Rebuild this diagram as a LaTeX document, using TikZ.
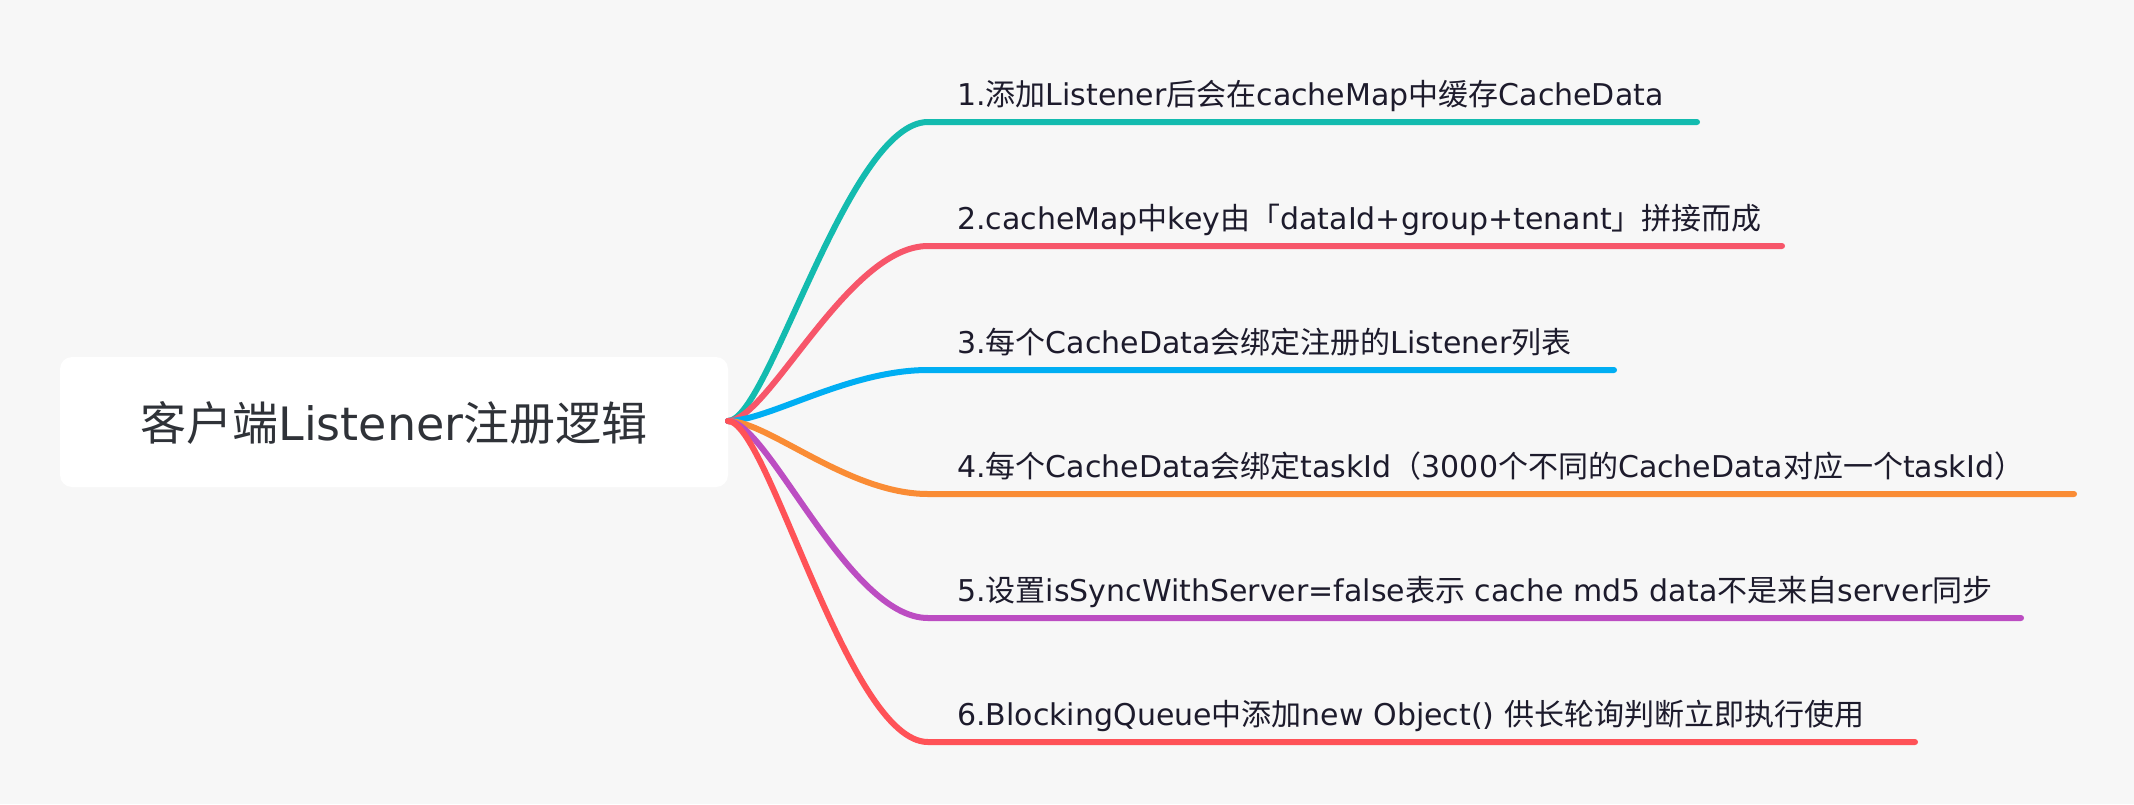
\documentclass[tikz,border=0pt]{standalone}
\usepackage{fontspec}
\setmainfont{DejaVu Sans}
\newfontfamily\cjkf{Noto Sans CJK SC}
\newcommand\zh[1]{{\cjkf #1}}
\definecolor{bgc}{HTML}{F7F7F7}
\definecolor{roottxt}{HTML}{2F3238}
\definecolor{leaftxt}{HTML}{1D1B2C}
\definecolor{cteal}{HTML}{13BBAF}
\definecolor{cpink}{HTML}{F7566A}
\definecolor{cblue}{HTML}{00AEF3}
\definecolor{corange}{HTML}{FA8C35}
\definecolor{cpurple}{HTML}{BC4DC2}
\definecolor{cred}{HTML}{FF5257}
\tikzset{
  rootbox/.style={fill=white, draw=none, rounded corners=12pt, minimum width=668pt, minimum height=130pt, inner sep=0pt},
  roottext/.style={text=roottxt, font=\fontsize{46}{54}\selectfont, inner sep=0pt, anchor=base},
  leaf/.style={text=leaftxt, font=\fontsize{30}{36}\selectfont, inner sep=0pt, anchor=base west},
  branch/.style={line width=6pt, line cap=round}
}
\begin{document}
\begin{tikzpicture}[x=1pt,y=-1pt]
\useasboundingbox (0,0) rectangle (2134,804);
\fill[bgc] (0,0) rectangle (2134,804);
\node[rootbox] (root) at (394,422) {};
\node[roottext] (rootlabel) at (394,440) {\zh{客户端}Listener\zh{注册逻辑}};
\coordinate (o) at (728,421);
\foreach \i/\y/\ex in {1/122/1697, 2/246/1782, 3/370/1614, 4/494/2074, 5/618/2021, 6/742/1915} {
  \coordinate (h\i) at (928,\y);
  \coordinate (e\i) at (\ex,\y);
}
\node[leaf] (t1) at (957,105) {1.\zh{添加}Listener\zh{后会在}cacheMap\zh{中缓存}CacheData};
\node[leaf] (t2) at (957,229) {2.cacheMap\zh{中}key\zh{由「}dataId+group+tenant\zh{」拼接而成}};
\node[leaf] (t3) at (957,353) {3.\zh{每个}CacheData\zh{会绑定注册的}Listener\zh{列表}};
\node[leaf] (t4) at (957,477) {4.\zh{每个}CacheData\zh{会绑定}taskId\zh{（}3000\zh{个不同的}CacheData\zh{对应一个}taskId\zh{）}};
\node[leaf] (t5) at (957,601) {5.\zh{设置}isSyncWithServer=false\zh{表示} cache md5 data\zh{不是来自}server\zh{同步}};
\node[leaf] (t6) at (957,725) {6.BlockingQueue\zh{中添加}new Object() \zh{供长轮询判断立即执行使用}};
\draw[branch, cteal]   (o) .. controls +(40,0) and +(-80,0) .. (h1) -- (e1);
\draw[branch, cpink]   (o) .. controls +(40,0) and +(-80,0) .. (h2) -- (e2);
\draw[branch, cblue]   (o) .. controls +(40,0) and +(-80,0) .. (h3) -- (e3);
\draw[branch, corange] (o) .. controls +(40,0) and +(-80,0) .. (h4) -- (e4);
\draw[branch, cpurple] (o) .. controls +(40,0) and +(-80,0) .. (h5) -- (e5);
\draw[branch, cred]    (o) .. controls +(40,0) and +(-80,0) .. (h6) -- (e6);
\end{tikzpicture}
\end{document}
